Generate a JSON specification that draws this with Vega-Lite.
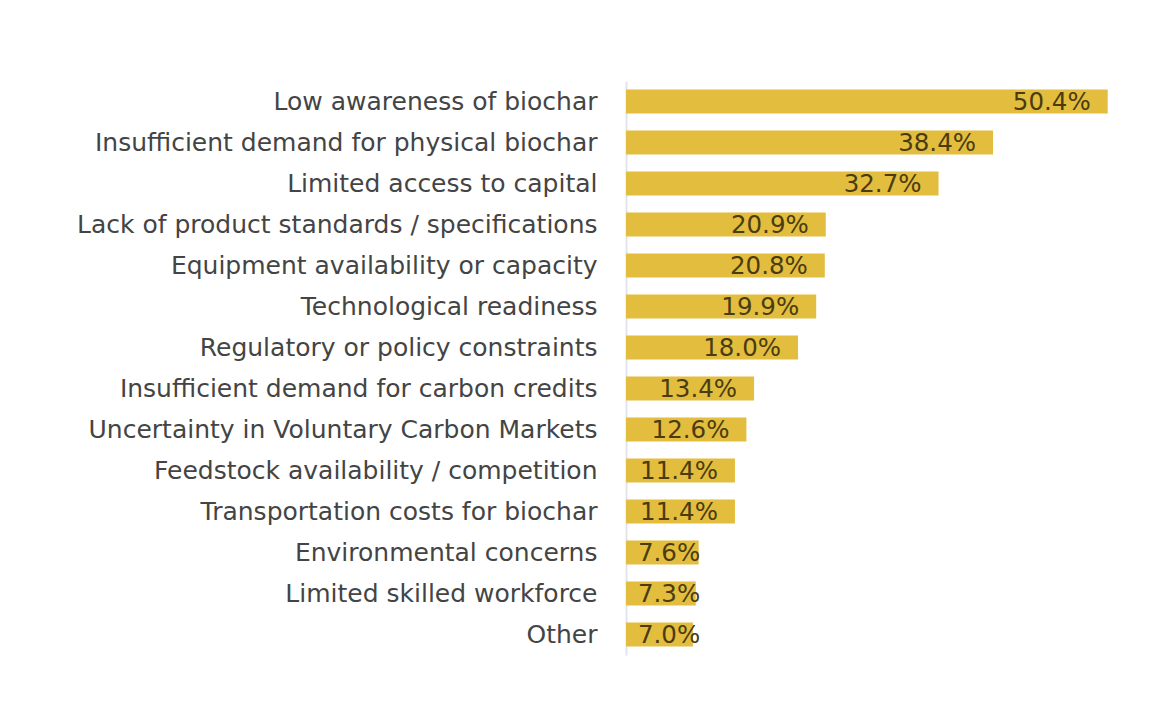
{
  "$schema": "https://vega.github.io/schema/vega-lite/v6.json",
  "autosize": "none",
  "width": 497,
  "height": 574,
  "padding": {"left": 626, "top": 81, "right": 50, "bottom": 56},
  "background": "white",
  "config": {"view": {"stroke": null}, "font": "DejaVu Sans"},
  "data": {
    "values": [
      {"barrier": "Low awareness of biochar", "value": 50.4, "pct": "50.4%"},
      {"barrier": "Insufficient demand for physical biochar", "value": 38.4, "pct": "38.4%"},
      {"barrier": "Limited access to capital", "value": 32.7, "pct": "32.7%"},
      {"barrier": "Lack of product standards / specifications", "value": 20.9, "pct": "20.9%"},
      {"barrier": "Equipment availability or capacity", "value": 20.8, "pct": "20.8%"},
      {"barrier": "Technological readiness ", "value": 19.9, "pct": "19.9%"},
      {"barrier": "Regulatory or policy constraints", "value": 18.0, "pct": "18.0%"},
      {"barrier": "Insufficient demand for carbon credits", "value": 13.4, "pct": "13.4%"},
      {"barrier": "Uncertainty in Voluntary Carbon Markets", "value": 12.6, "pct": "12.6%"},
      {"barrier": "Feedstock availability / competition", "value": 11.4, "pct": "11.4%"},
      {"barrier": "Transportation costs for biochar", "value": 11.4, "pct": "11.4%"},
      {"barrier": "Environmental concerns ", "value": 7.6, "pct": "7.6%"},
      {"barrier": "Limited skilled workforce", "value": 7.3, "pct": "7.3%"},
      {"barrier": "Other", "value": 7.0, "pct": "7.0%"}
    ]
  },
  "encoding": {
    "y": {
      "field": "barrier",
      "type": "nominal",
      "sort": null,
      "scale": {"paddingInner": 0.415, "paddingOuter": 0.2075},
      "axis": {
        "title": null,
        "ticks": false,
        "labelPadding": 29,
        "labelFontSize": 25,
        "labelColor": "#444444",
        "labelLimit": 0,
        "domainColor": "#e4e4ee",
        "domainWidth": 2
      }
    }
  },
  "layer": [
    {
      "mark": {"type": "bar", "color": "#E3BD3E"},
      "encoding": {
        "x": {"field": "value", "type": "quantitative", "scale": {"domain": [0, 52], "nice": false}, "axis": null}
      }
    },
    {
      "transform": [{"filter": "datum.value >= 10"}],
      "mark": {"type": "text", "align": "right", "baseline": "middle", "dx": -17, "dy": 1, "fontSize": 24.5, "color": "#4a3c10"},
      "encoding": {
        "x": {"field": "value", "type": "quantitative"},
        "text": {"field": "pct"}
      }
    },
    {
      "transform": [{"filter": "datum.value < 10"}],
      "mark": {"type": "text", "align": "left", "baseline": "middle", "dy": 1, "fontSize": 24.5, "color": "#4a3c10"},
      "encoding": {
        "x": {"datum": 1.25, "type": "quantitative"},
        "text": {"field": "pct"}
      }
    }
  ]
}
